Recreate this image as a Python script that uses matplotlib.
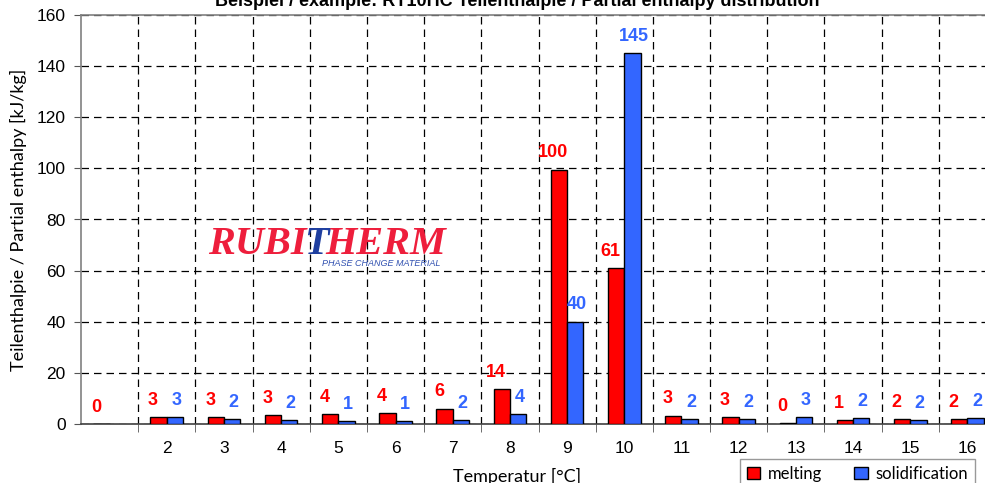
import numpy as np
import matplotlib
matplotlib.use("Agg")
import matplotlib.pyplot as plt

# data
categories = list(range(1, 17))
tick_labels = [""] + [str(c) for c in categories[1:]]
melting = [0.0, 2.8, 2.8, 3.4, 3.8, 4.2, 6.0, 13.6, 99.5, 61.0, 3.2, 2.8, 0.4, 1.4, 1.8, 1.8]
solidification = [np.nan, 2.8, 2.0, 1.6, 1.0, 1.0, 1.6, 3.8, 40.0, 145.0, 2.0, 2.0, 2.8, 2.4, 1.6, 2.4]
yticks = list(range(0, 161, 20))

RED = "#FF0000"
BLUE = "#3366FF"

W, H = 985, 483
fig = plt.figure(figsize=(W / 100, H / 100), dpi=100)
ax = fig.add_axes([81 / W, 1 - 424 / H, (996 - 81) / W, (424 - 15) / H])

x = np.array(categories, dtype=float)
bw = 0.285
ax.bar(x - bw / 2, melting, bw, color=RED, edgecolor="black", linewidth=1, label="melting", zorder=3)
ax.bar(x + bw / 2, solidification, bw, color=BLUE, edgecolor="black", linewidth=1, label="solidification", zorder=3)

for xi, m, s in zip(x, melting, solidification):
    ax.annotate(f"{m:.0f}", (xi - bw / 2, m), xytext=(-4, 6), textcoords="offset points",
                ha="center", va="bottom", color=RED, fontsize=13, fontweight="bold",
                family="Liberation Sans", zorder=4)
    if not np.isnan(s):
        ax.annotate(f"{s:.0f}", (xi + bw / 2, s), xytext=(1, 6), textcoords="offset points",
                    ha="center", va="bottom", color=BLUE, fontsize=13, fontweight="bold",
                    family="Liberation Sans", zorder=4)

ax.set_xlim(0.5, 16.5)
ax.set_ylim(0, 160)
ax.set_xticks(x)
ax.set_xticklabels(tick_labels, family="Liberation Sans", fontsize=12.5)
ax.set_yticks(yticks)
for t in ax.get_yticklabels():
    t.set_family("Liberation Sans")
    t.set_fontsize(12.5)
ax.tick_params(axis="x", which="major", length=0, pad=12)
ax.set_xticks(np.arange(1.5, 16.5, 1), minor=True)
ax.tick_params(axis="x", which="minor", length=6, color="#555555")
ax.tick_params(axis="y", length=5, color="#555555", pad=6)

ax.grid(True, axis="y", color="black", linestyle=(0, (6, 4)), linewidth=0.9, zorder=1)
ax.grid(True, axis="x", which="minor", color="black", linestyle=(0, (6, 4)), linewidth=0.9, zorder=1)
for side in ["left", "bottom", "top"]:
    ax.spines[side].set_color("#808080")
    ax.spines[side].set_linewidth(1.2)
ax.spines["bottom"].set_color("#404040")
ax.spines["right"].set_visible(False)

fig.text(517 / W, 1 - 476 / H, "Temperatur [°C]", ha="center", va="center", family="Lato", fontsize=13)
fig.text(18 / W, 1 - 220 / H, "Teilenthalpie / Partial enthalpy [kJ/kg]", ha="center", va="center",
         rotation=90, family="Lato", fontsize=13)
fig.text(517 / W, 1 - 6 / H, "Beispiel / example: RT10HC Teilenthalpie / Partial enthalpy distribution",
         ha="center", va="baseline", family="Liberation Sans", fontsize=13, fontweight="bold")

# logo, pieces chained one after another
renderer = fig.canvas.get_renderer()
logo_kw = dict(family="Liberation Serif", fontweight="bold", style="italic", fontsize=29, va="baseline", ha="left")
t1 = fig.text(208 / W, 1 - 254 / H, "RUBI", color="#EE1E3C", **logo_kw)
e1 = t1.get_window_extent(renderer)
t2 = fig.text((e1.x1 - 2) / W, 1 - 254 / H, "T", color="#1F3FA0", **logo_kw)
e2 = t2.get_window_extent(renderer)
fig.text((e2.x1 - 4) / W, 1 - 254 / H, "HERM", color="#EE1E3C", **logo_kw)
fig.text(322 / W, 1 - 263 / H, "PHASE CHANGE MATERIAL", color="#3050B0", ha="left", va="center",
         family="Liberation Sans", style="italic", fontsize=6.5)

leg = ax.legend(loc="upper left", bbox_to_anchor=(740 / W, 1 - 459 / H), bbox_transform=fig.transFigure,
                ncol=2, frameon=True, fancybox=False, prop={"family": "Lato", "size": 12},
                handlelength=0.8, handleheight=0.8, handletextpad=0.5, columnspacing=1.9,
                borderpad=0.4, borderaxespad=0)
leg.get_frame().set_edgecolor("#808080")
leg.get_frame().set_linewidth(1)

fig.savefig("out.png", dpi=100)
